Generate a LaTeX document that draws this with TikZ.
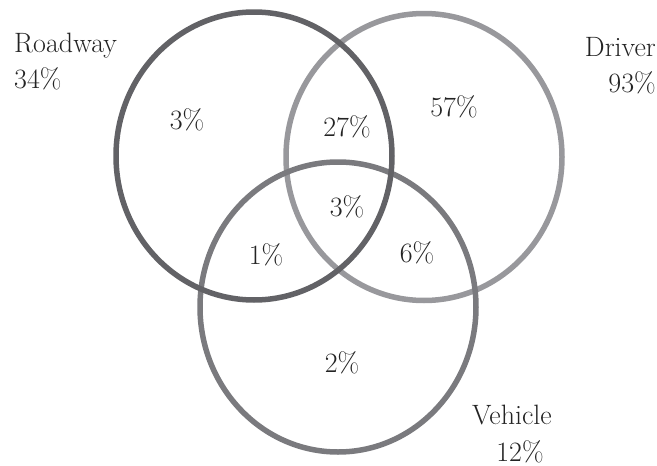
\documentclass[tikz,border=0pt]{standalone}
\usetikzlibrary{shapes.geometric}
\definecolor{roadgray}{RGB}{98,98,102}
\definecolor{drivergray}{RGB}{152,152,156}
\definecolor{vehiclegray}{RGB}{122,122,126}
\definecolor{textgray}{RGB}{35,35,35}
\begin{document}
\begin{tikzpicture}[x=1pt, y=-1pt, set node/.style={ellipse,draw,line width=5.5pt,inner sep=0pt,outer sep=0pt,minimum width=276pt}, val/.style={font=\fontsize{28}{30}\selectfont,text=textgray,inner sep=0pt}]
\useasboundingbox (0,0) rectangle (657,466);
\node [set node, draw=drivergray, minimum height=287pt](driver) at (424,157) {};
\node [set node, draw=vehiclegray, minimum height=290pt](vehicle) at (338,307) {};
\node [set node, draw=roadgray, minimum height=288pt](roadway) at (254,156) {};
\begin{scope}[every node/.style={val}]
\node [anchor=base west](roadname) at (14,52) {Roadway};
\node [anchor=base west](roadtotal) at (14,88) {34\%};
\node [anchor=base east](drivername) at (656,56) {Driver};
\node [anchor=base east](drivertotal) at (656,92) {93\%};
\node [anchor=base west](vehiclename) at (472,424) {Vehicle};
\node [anchor=base](vehicletotal) at (520,461) {12\%};
\node (r) at (187,120) {3\%};
\node (rd) at (347,127) {27\%};
\node (d) at (454,107) {57\%};
\node (rdv) at (347,207) {3\%};
\node (rv) at (266,255) {1\%};
\node (dv) at (417,253) {6\%};
\node (v) at (342,363) {2\%};
\end{scope}
\end{tikzpicture}
\end{document}
